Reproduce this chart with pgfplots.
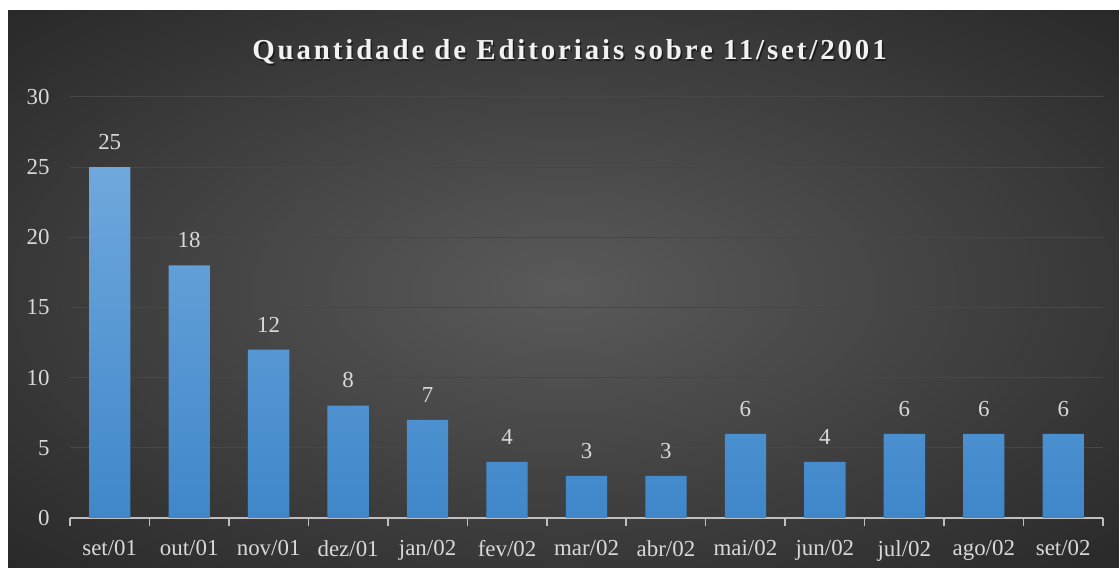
\documentclass[border=0pt]{standalone}
\usepackage{pgfplots}
\pgfplotsset{compat=1.18}
\usepackage{fontspec}
\setmainfont{Liberation Serif}
\newfontfamily\titlefont[LetterSpace=10]{Liberation Serif}
\definecolor{bgin}{HTML}{5A5A5A}
\definecolor{bgout}{HTML}{282828}
\definecolor{txt}{HTML}{D9D9D9}
\definecolor{gridc}{HTML}{474747}
\definecolor{bartop}{HTML}{6FA8DC}
\definecolor{barbot}{HTML}{3F87CA}
\definecolor{axln}{HTML}{BFBFBF}
\pgfdeclareradialshading{bgshade}{\pgfpoint{0bp}{0bp}}{color(0bp)=(bgin); color(36bp)=(bgout); color(50bp)=(bgout)}
\begin{document}
\begin{tikzpicture}
\useasboundingbox (0,0) rectangle (1119bp,568bp);
\fill[white] (0,0) rectangle (1119bp,568bp);
\shade[shading=bgshade] (8bp,0) rectangle (1119bp,557bp);
\begin{axis}[
  scale only axis, width=1033bp, height=421bp,
  at={(70bp,50bp)}, anchor=south west,
  xmin=-0.5, xmax=12.5, ymin=0, ymax=30,
  ybar, bar width=0.52,
  ytick={0,5,...,30},
  xtick={0,...,12},
  xticklabels={set/01,out/01,nov/01,dez/01,jan/02,fev/02,mar/02,abr/02,mai/02,jun/02,jul/02,ago/02,set/02},
  minor xtick={-0.5,0.5,...,12.5},
  major tick length=0pt, minor tick length=8bp,
  tick align=outside,
  ytick style={draw=none},
  minor x tick style={axln, line width=1.5bp},
  axis x line*=bottom, axis y line*=left,
  x axis line style={axln, line width=1.5bp, -},
  y axis line style={draw=none},
  ymajorgrids, grid style={gridc, line width=1bp},
  /pgf/number format/assume math mode=true,
  ticklabel style={font=\fontsize{23}{27}\selectfont, text=txt},
  xticklabel style={yshift=-19bp},
  yticklabel style={xshift=-17bp},
  nodes near coords,
  every node near coord/.style={font=\fontsize{23}{27}\selectfont, text=txt, yshift=14bp},
]
\addplot[draw=none, top color=bartop, bottom color=barbot] coordinates {
(0,25) (1,18) (2,12) (3,8) (4,7) (5,4) (6,3) (7,3) (8,6) (9,4) (10,6) (11,6) (12,6)};
\end{axis}
\node[anchor=base, text=black, opacity=0.5] at (571bp,506.5bp) {\fontsize{29}{33}\titlefont\bfseries Quantidade de Editoriais sobre 11/set/2001};
\node[anchor=base, text=white!95!black] at (569.5bp,508bp) {\fontsize{29}{33}\titlefont\bfseries Quantidade de Editoriais sobre 11/set/2001};
\end{tikzpicture}
\end{document}
